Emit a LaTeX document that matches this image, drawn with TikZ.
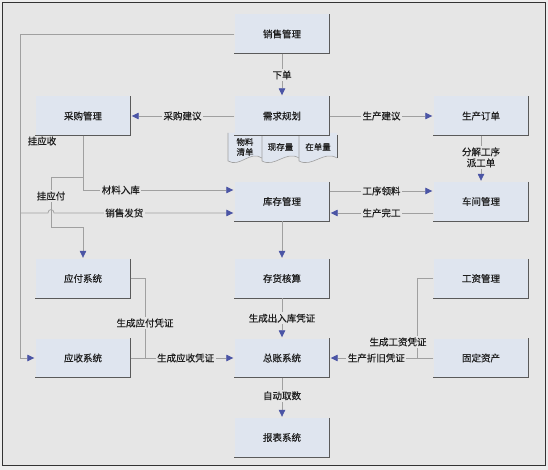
\documentclass[tikz,border=0pt]{standalone}
\usepackage{fontspec}
\setmainfont{Noto Sans CJK SC}[FakeBold=0.4]
\usetikzlibrary{arrows.meta}
\definecolor{outc}{HTML}{EDEDED}
\definecolor{bgc}{HTML}{E6E6E6}
\definecolor{boxc}{HTML}{DFE5EF}
\definecolor{shadc}{HTML}{5A5A5A}
\definecolor{linec}{HTML}{A0A0A0}
\definecolor{arrc}{HTML}{4B55A5}
\definecolor{txt}{HTML}{1E1E1E}
\newcommand{\mainfs}{\fontsize{9.5bp}{11bp}\selectfont}
\newcommand{\tabfs}{\fontsize{8.5bp}{10bp}\selectfont}
\begin{document}
\begin{tikzpicture}[x=1bp,y=-1bp,
  box/.style={rectangle, fill=boxc, minimum width=95bp, minimum height=39bp, inner sep=0pt, font=\mainfs, text=txt},
  line/.style={draw=linec, line width=0.7bp},
  conn/.style={line, -{Triangle[length=7bp,width=6.5bp,color=arrc]}, shorten >=1bp},
  lbl/.style={fill=bgc, inner sep=1.5bp, font=\mainfs, text=txt},
  plainlbl/.style={inner sep=1pt, font=\mainfs, text=txt},
  shadl/.style={draw=shadc, line width=1bp},
  tabtxt/.style={font=\tabfs, text=txt, align=center, inner sep=0pt}]
\useasboundingbox (0,0) rectangle (548,470);
\fill[outc] (0,0) rectangle (548,470);
\filldraw[fill=bgc, draw=black!80, line width=1.5bp] (2.5,2.5) rectangle (545.5,465.5);

% tabs under the planning box
\foreach \a/\b/\t in {228/262/{物料\\清单}, 262/299/{现存量}, 299/337/{在单量}} {
  \fill[boxc] (\a,133) -- (\b,133) -- (\b,158) .. controls ({\a+0.65*(\b-\a)},150) and ({\a+0.35*(\b-\a)},168) .. (\a,161) -- cycle;
  \draw[linec, line width=0.6bp] (\b,158) .. controls ({\a+0.65*(\b-\a)},150) and ({\a+0.35*(\b-\a)},168) .. (\a,161) -- (\a,133);
  \draw[shadl] (\b,135) -- (\b,158);
  \node[tabtxt] at ({(\a+\b)/2},147) {\t};
}

% boxes
\node[box] (sale)  at (282,34)    {销售管理};
\node[box] (purch) at (83,116)    {采购管理};
\node[box] (plan)  at (282,116)   {需求规划};
\node[box] (order) at (481,116)   {生产订单};
\node[box] (stock) at (282,201.5) {库存管理};
\node[box] (shop)  at (481,201.5) {车间管理};
\node[box] (ap)    at (83,278.5)  {应付系统};
\node[box] (cost)  at (282,278.5) {存货核算};
\node[box] (pay)   at (481,278.5) {工资管理};
\node[box] (ar)    at (83,358)    {应收系统};
\node[box] (gl)    at (282,358)   {总账系统};
\node[box] (fa)    at (481,358)   {固定资产};
\node[box] (rep)   at (282,437.5) {报表系统};
\foreach \n in {sale,purch,plan,order,stock,shop,ap,cost,pay,ar,gl,fa,rep}
  \draw[shadl] (\n.north east) -- (\n.south east) -- (\n.south west);

% helper coordinates
\coordinate (lx) at (20,0);
\coordinate (sj) at (20,213);
\coordinate (px) at (51,0);
\coordinate (apx) at (145,0);
\coordinate (payx) at (417,0);

% connectors
\draw[conn] (sale) -- node[lbl]{下单} (plan);
\draw[conn] (plan) -- node[lbl]{采购建议} (purch);
\draw[conn] (plan) -- node[lbl]{生产建议} (order);
\draw[conn] (order) -- node[lbl, align=center, pos=0.47]{分解工序\\派工单} (shop);
\draw[conn] (stock.east |- 0,191) -- node[lbl]{工序领料} (shop.west |- 0,191);
\draw[conn] (shop.west |- 0,213) -- node[lbl]{生产完工} (stock.east |- 0,213);
\draw[conn] (purch.south) -- (purch.south |- 0,190) -- node[lbl, pos=0.25]{材料入库} (stock.west |- 0,190);
\draw[conn] (sale.west) -| (lx |- ar.west) -- (ar.west);
\node[plainlbl] (gys) at (42,141) {挂应收};
\draw[conn] (sj) -- (48,213) .. controls (48,208.5) and (54,208.5) .. (54,213) -- node[lbl, pos=0.39]{销售发货} (stock.west |- sj);
\draw[conn] (purch.south |- 0,177) -- (px |- 0,177) -- node[lbl, pos=0.38]{挂应付} (px |- 0,227) -- (ap.north |- 0,227) -- (ap.north);
\draw[line] (ap.east) -- (apx |- ap.east) -- node[lbl, pos=0.56]{生成应付凭证} (apx |- ar.east);
\draw[conn] (ar) -- node[lbl, pos=0.53]{生成应收凭证} (gl);
\draw[conn] (stock) -- (cost);
\draw[conn] (cost) -- node[lbl]{生成出入库凭证} (gl);
\draw[line] (pay.west) -- (payx |- pay.west) -- (payx |- fa.west);
\node[lbl] (gzl) at (398,342) {生成工资凭证};
\draw[conn] (fa) -- node[lbl, pos=0.55]{生产折旧凭证} (gl);
\draw[conn] (gl) -- node[lbl, pos=0.45]{自动取数} (rep);
\end{tikzpicture}
\end{document}
